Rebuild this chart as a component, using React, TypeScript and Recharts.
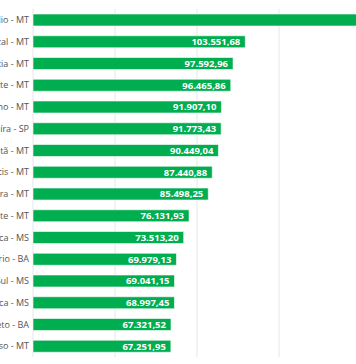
import { BarChart, Bar, XAxis, YAxis, CartesianGrid, LabelList } from 'recharts'

const cities = [
  'Campos de Júlio - MT',
  'Sapezal - MT',
  'Querência - MT',
  'Ipiranga do Norte - MT',
  'Diamantino - MT',
  'Guaíra - SP',
  'Nova Ubiratã - MT',
  'Campo Novo do Parecis - MT',
  'Itiquira - MT',
  'Santo Antônio do Leste - MT',
  'Costa Rica - MS',
  'São Desidério - BA',
  'Chapadão do Sul - MS',
  'Angélica - MS',
  'Formosa do Rio Preto - BA',
  'Sorriso - MT',
]

// first value is cut off in the picture, estimated
const values = [
  189734.52, 103551.68, 97592.96, 96465.86, 91907.1, 91773.43, 90449.04, 87440.88,
  85498.25, 76131.93, 73513.2, 69979.13, 69041.15, 68997.45, 67321.52, 67251.95,
]

const xTicks = [0, 20000, 40000, 60000, 80000, 100000, 120000, 140000, 160000, 180000, 200000]

const data = cities.map((city, i) => ({ city, value: values[i] }))

const fmt = (v: number) => {
  const [int, dec] = v.toFixed(2).split('.')
  return int.replace(/\B(?=(\d{3})+(?!\d))/g, '.') + ',' + dec
}

const CityTick = (props: any) => {
  const { x, y, payload } = props
  return (
    <text
      x={x}
      y={y}
      dy="0.35em"
      textAnchor="end"
      fontSize={9}
      fill="#555"
      fontFamily="Open Sans"
    >
      {payload.value}
    </text>
  )
}

export default function App() {
  return (
    <div
      style={{
        position: 'fixed',
        left: 0,
        top: 0,
        width: 356,
        height: 364,
        overflow: 'hidden',
        background: '#fff',
      }}
    >
      <div style={{ position: 'absolute', left: -127, top: 0 }}>
        <BarChart
          width={580}
          height={364}
          data={data}
          layout="vertical"
          margin={{ top: 9, right: 10, bottom: 7, left: 0 }}
        >
          <CartesianGrid horizontal={false} stroke="#e6e6e6" />
          <XAxis type="number" domain={[0, 200000]} ticks={xTicks} hide />
          <YAxis
            type="category"
            dataKey="city"
            width={160}
            interval={0}
            tickLine={false}
            axisLine={false}
            tickSize={0}
            tickMargin={4}
            tick={<CityTick />}
          />
          <Bar
            dataKey="value"
            fill="#00ad4f"
            stroke="#ffffff"
            strokeOpacity={0.6}
            barSize={12}
            isAnimationActive={false}
          >
            <LabelList
              dataKey="value"
              position="insideRight"
              offset={5}
              formatter={(v: number) => fmt(v)}
              fill="#ffffff"
              fontSize={9.5}
              fontWeight="bold"
              fontFamily="Open Sans"
            />
          </Bar>
        </BarChart>
      </div>
    </div>
  )
}
